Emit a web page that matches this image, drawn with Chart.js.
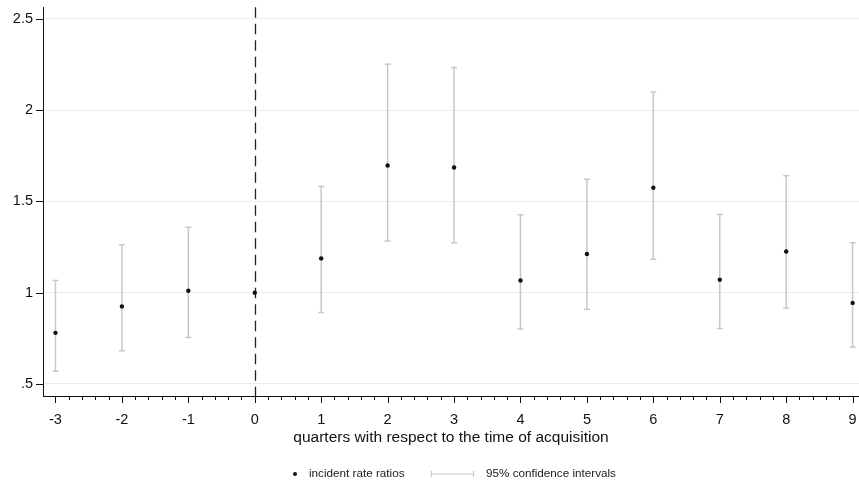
<!DOCTYPE html>
<html>
<head>
<meta charset="utf-8">
<script src="https://cdn.jsdelivr.net/npm/chart.js@4.4.1/dist/chart.umd.min.js"></script>
<style>
  html, body { margin: 0; padding: 0; background: #fff; }
  #wrap { width: 859px; height: 485px; }
</style>
</head>
<body>
<div id="wrap"><canvas id="irrChart" width="859" height="485"></canvas></div>
<script>
// values
const quarters = [-3, -2, -1, 0, 1, 2, 3, 4, 5, 6, 7, 8, 9];
const irr    = [0.780, 0.925, 1.011, 1.000, 1.188, 1.697, 1.686, 1.067, 1.212, 1.575, 1.071, 1.226, 0.944];
const ciLow  = [0.569, 0.682, 0.755, null, 0.892, 1.283, 1.274, 0.801, 0.909, 1.183, 0.804, 0.916, 0.702];
const ciHigh = [1.067, 1.263, 1.358, null, 1.582, 2.252, 2.234, 1.427, 1.621, 2.100, 1.429, 1.641, 1.274];
const yTicks = [0.5, 1, 1.5, 2, 2.5];
const eventQuarter = 0;

const FONT = '"Liberation Sans", Arial, sans-serif';

const extras = {
    id: 'extras',
    beforeDatasetsDraw(chart) {
        const { ctx, chartArea, scales: { x, y } } = chart;
        ctx.save();
        // vertical reference line at acquisition
        const x0 = Math.round(x.getPixelForValue(eventQuarter)) + 0.5;
        ctx.strokeStyle = '#222';
        ctx.lineWidth = 1.3;
        ctx.setLineDash([10.5, 6]);
        ctx.beginPath();
        ctx.moveTo(x0, chartArea.top);
        ctx.lineTo(x0, chartArea.bottom);
        ctx.stroke();
        ctx.setLineDash([]);

        // confidence intervals
        ctx.strokeStyle = '#c8c8c8';
        ctx.lineWidth = 1.5;
        quarters.forEach((q, i) => {
            if (ciLow[i] == null) return;
            const px = x.getPixelForValue(q);
            const yl = y.getPixelForValue(ciLow[i]);
            const yh = y.getPixelForValue(ciHigh[i]);
            ctx.beginPath();
            ctx.moveTo(px, yl); ctx.lineTo(px, yh);
            ctx.moveTo(px - 3, yl); ctx.lineTo(px + 3, yl);
            ctx.moveTo(px - 3, yh); ctx.lineTo(px + 3, yh);
            ctx.stroke();
        });
        ctx.restore();
    },
    afterDraw(chart) {
        const { ctx, chartArea, scales: { x, y } } = chart;
        ctx.save();
        // major ticks at each quarter, minor ticks every 0.2
        ctx.strokeStyle = '#111';
        ctx.lineWidth = 1;
        const first = quarters[0] * 5, last = quarters[quarters.length - 1] * 5;
        for (let k = first; k <= last; k++) {
            const len = k % 5 === 0 ? 7 : 4;
            const px = Math.round(x.getPixelForValue(k / 5)) + 0.5;
            ctx.beginPath();
            ctx.moveTo(px, chartArea.bottom);
            ctx.lineTo(px, chartArea.bottom + len);
            ctx.stroke();
        }
        // y tick marks
        yTicks.forEach(v => {
            const py = Math.round(y.getPixelForValue(v)) + 0.5;
            ctx.beginPath();
            ctx.moveTo(chartArea.left - 7, py);
            ctx.lineTo(chartArea.left, py);
            ctx.stroke();
        });

        // legend
        const ly = 474;
        ctx.fillStyle = '#111';
        ctx.beginPath();
        ctx.arc(295, ly, 2, 0, Math.PI * 2);
        ctx.fill();
        ctx.font = '11.7px ' + FONT;
        ctx.textBaseline = 'middle';
        ctx.fillStyle = '#222';
        ctx.fillText('incident rate ratios', 309, ly);

        ctx.strokeStyle = '#c8c8c8';
        ctx.lineWidth = 1.2;
        ctx.beginPath();
        ctx.moveTo(431, ly); ctx.lineTo(474, ly);
        ctx.moveTo(431.5, ly - 3); ctx.lineTo(431.5, ly + 3);
        ctx.moveTo(473.5, ly - 3); ctx.lineTo(473.5, ly + 3);
        ctx.stroke();
        ctx.fillText('95% confidence intervals', 486, ly);
        ctx.restore();
    }
};

new Chart(document.getElementById('irrChart'), {
    type: 'scatter',
    data: {
        datasets: [{
            label: 'incident rate ratios',
            data: quarters.map((q, i) => ({ x: q, y: irr[i] })),
            backgroundColor: '#111',
            borderColor: '#111',
            pointRadius: 2.2,
            borderWidth: 0
        }]
    },
    options: {
        responsive: false,
        animation: false,
        layout: { autoPadding: false, padding: { top: 7, right: 0, bottom: 29, left: 0 } },
        scales: {
            x: {
                type: 'linear',
                min: -3.188,
                max: 9.096,
                afterBuildTicks: s => { s.ticks = quarters.map(v => ({ value: v })); },
                afterFit: s => { s.height = 60; },
                grid: { drawOnChartArea: false, tickColor: 'rgba(0,0,0,0)', tickLength: 15 },
                border: { color: '#111', width: 1 },
                ticks: { color: '#111', font: { family: FONT, size: 14.5 }, padding: 0, maxRotation: 0 },
                title: {
                    display: true,
                    text: 'quarters with respect to the time of acquisition',
                    color: '#111',
                    font: { family: FONT, size: 15.5 },
                    padding: { top: 2, bottom: 9 }
                }
            },
            y: {
                min: 0.434,
                max: 2.564,
                afterBuildTicks: s => { s.ticks = yTicks.map(v => ({ value: v })); },
                afterFit: s => { s.width = 43; },
                grid: { color: '#e7eef1', tickColor: 'rgba(0,0,0,0)', tickLength: 10 },
                border: { color: '#111', width: 1 },
                ticks: {
                    color: '#111',
                    font: { family: FONT, size: 14.5, lineHeight: 1 },
                    padding: 0,
                    callback: v => (v < 1 ? String(v).replace(/^0/, '') : String(v))
                }
            }
        },
        plugins: {
            legend: { display: false },
            tooltip: { enabled: false }
        }
    },
    plugins: [extras]
});
</script>
</body>
</html>
